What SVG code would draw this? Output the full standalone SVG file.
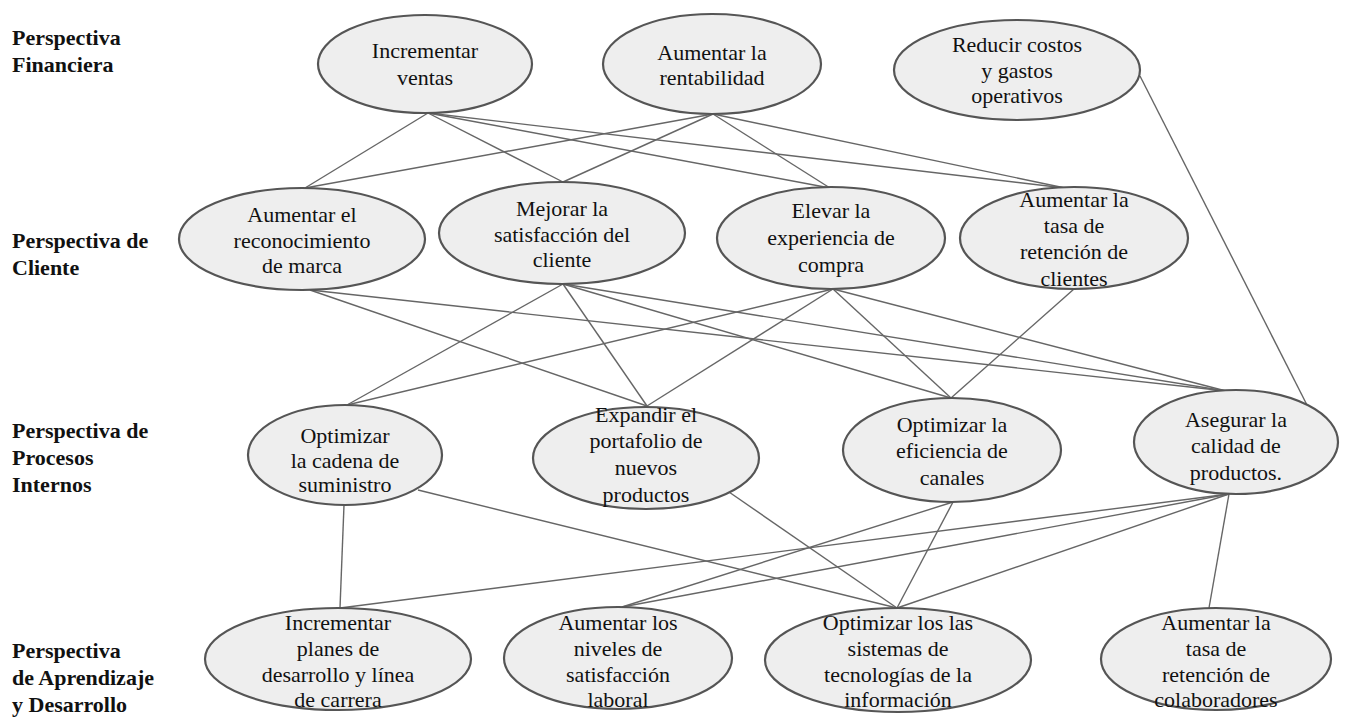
<svg xmlns="http://www.w3.org/2000/svg" width="1350" height="718" viewBox="0 0 1350 718">
<style>
.bg{fill:#ffffff}
.node ellipse{fill:#eeeeee;stroke:#555555;stroke-width:2.2}
.node text{font-family:"Liberation Serif","Times New Roman",serif;font-size:22px;fill:#111111;text-anchor:middle}
.lbl{font-family:"Liberation Serif","Times New Roman",serif;font-size:22px;font-weight:bold;fill:#111111}
#connectors line{stroke:#666666;stroke-width:1.4}
</style>
<rect class="bg" x="0" y="0" width="1350" height="718"/>
<g id="labels">
<text class="lbl" x="12" y="45">Perspectiva</text>
<text class="lbl" x="12" y="72">Financiera</text>
<text class="lbl" x="12" y="248">Perspectiva de</text>
<text class="lbl" x="12" y="275">Cliente</text>
<text class="lbl" x="12" y="438">Perspectiva de</text>
<text class="lbl" x="12" y="465">Procesos</text>
<text class="lbl" x="12" y="492">Internos</text>
<text class="lbl" x="12" y="658">Perspectiva</text>
<text class="lbl" x="12" y="685">de Aprendizaje</text>
<text class="lbl" x="12" y="712">y Desarrollo</text>
</g>
<g id="connectors">
<line x1="428" y1="113" x2="305" y2="188"/>
<line x1="428" y1="113" x2="563" y2="182"/>
<line x1="428" y1="113" x2="830" y2="188"/>
<line x1="428" y1="113" x2="1065" y2="188"/>
<line x1="713" y1="114" x2="305" y2="188"/>
<line x1="713" y1="114" x2="563" y2="182"/>
<line x1="713" y1="114" x2="830" y2="188"/>
<line x1="713" y1="114" x2="1065" y2="188"/>
<line x1="1140" y1="76" x2="1307" y2="405"/>
<line x1="310" y1="290" x2="647" y2="406"/>
<line x1="310" y1="290" x2="1226" y2="391"/>
<line x1="563" y1="284" x2="347" y2="405"/>
<line x1="563" y1="284" x2="647" y2="406"/>
<line x1="563" y1="284" x2="951" y2="398"/>
<line x1="563" y1="284" x2="1226" y2="391"/>
<line x1="833" y1="289" x2="347" y2="405"/>
<line x1="833" y1="289" x2="647" y2="406"/>
<line x1="833" y1="289" x2="951" y2="398"/>
<line x1="833" y1="289" x2="1226" y2="391"/>
<line x1="1074" y1="289" x2="951" y2="398"/>
<line x1="344" y1="505" x2="340" y2="608"/>
<line x1="418" y1="490" x2="897" y2="608"/>
<line x1="729" y1="492" x2="897" y2="608"/>
<line x1="953" y1="502" x2="622" y2="607"/>
<line x1="953" y1="502" x2="897" y2="608"/>
<line x1="1229" y1="494" x2="340" y2="608"/>
<line x1="1229" y1="494" x2="622" y2="607"/>
<line x1="1229" y1="494" x2="897" y2="608"/>
<line x1="1229" y1="494" x2="1209" y2="608"/>
</g>
<g id="n-incrementar-ventas" class="node"><ellipse cx="425" cy="64" rx="107" ry="49"/><text x="425" y="58">Incrementar</text><text x="425" y="85">ventas</text></g>
<g id="n-rentabilidad" class="node"><ellipse cx="712" cy="64" rx="109" ry="50"/><text x="712" y="60">Aumentar la</text><text x="712" y="85">rentabilidad</text></g>
<g id="n-reducir-costos" class="node"><ellipse cx="1017" cy="70" rx="123" ry="50"/><text x="1017" y="52">Reducir costos</text><text x="1017" y="78">y gastos</text><text x="1017" y="103">operativos</text></g>
<g id="n-reconocimiento" class="node"><ellipse cx="302" cy="239" rx="123" ry="51"/><text x="302" y="222">Aumentar el</text><text x="302" y="248">reconocimiento</text><text x="302" y="273">de marca</text></g>
<g id="n-satisfaccion-cliente" class="node"><ellipse cx="562" cy="233" rx="123" ry="51"/><text x="562" y="216">Mejorar la</text><text x="562" y="242">satisfacción del</text><text x="562" y="267">cliente</text></g>
<g id="n-experiencia" class="node"><ellipse cx="831" cy="238" rx="114" ry="51"/><text x="831" y="218">Elevar la</text><text x="831" y="245">experiencia de</text><text x="831" y="272">compra</text></g>
<g id="n-retencion-clientes" class="node"><ellipse cx="1074" cy="238" rx="114" ry="51"/><text x="1074" y="207">Aumentar la</text><text x="1074" y="233">tasa de</text><text x="1074" y="259">retención de</text><text x="1074" y="286">clientes</text></g>
<g id="n-cadena" class="node"><ellipse cx="345" cy="455" rx="97" ry="50"/><text x="345" y="443">Optimizar</text><text x="345" y="468">la cadena de</text><text x="345" y="492">suministro</text></g>
<g id="n-portafolio" class="node"><ellipse cx="646" cy="458" rx="113" ry="51"/><text x="646" y="422">Expandir el</text><text x="646" y="448">portafolio de</text><text x="646" y="475">nuevos</text><text x="646" y="502">productos</text></g>
<g id="n-canales" class="node"><ellipse cx="952" cy="450" rx="109" ry="52"/><text x="952" y="432">Optimizar la</text><text x="952" y="458">eficiencia de</text><text x="952" y="485">canales</text></g>
<g id="n-calidad" class="node"><ellipse cx="1236" cy="442" rx="102" ry="52"/><text x="1236" y="427">Asegurar la</text><text x="1236" y="453">calidad de</text><text x="1236" y="480">productos.</text></g>
<g id="n-planes" class="node"><ellipse cx="338" cy="659" rx="133" ry="51"/><text x="338" y="630">Incrementar</text><text x="338" y="656">planes de</text><text x="338" y="682">desarrollo y línea</text><text x="338" y="707">de carrera</text></g>
<g id="n-satisfaccion-laboral" class="node"><ellipse cx="618" cy="658" rx="114" ry="51"/><text x="618" y="630">Aumentar los</text><text x="618" y="656">niveles de</text><text x="618" y="682">satisfacción</text><text x="618" y="707">laboral</text></g>
<g id="n-tecnologias" class="node"><ellipse cx="898" cy="660" rx="133" ry="52"/><text x="898" y="630">Optimizar los las</text><text x="898" y="656">sistemas de</text><text x="898" y="682">tecnologías de la</text><text x="898" y="707">información</text></g>
<g id="n-retencion-colaboradores" class="node"><ellipse cx="1216" cy="659" rx="115" ry="51"/><text x="1216" y="630">Aumentar la</text><text x="1216" y="656">tasa de</text><text x="1216" y="682">retención de</text><text x="1216" y="707">colaboradores</text></g>
</svg>
